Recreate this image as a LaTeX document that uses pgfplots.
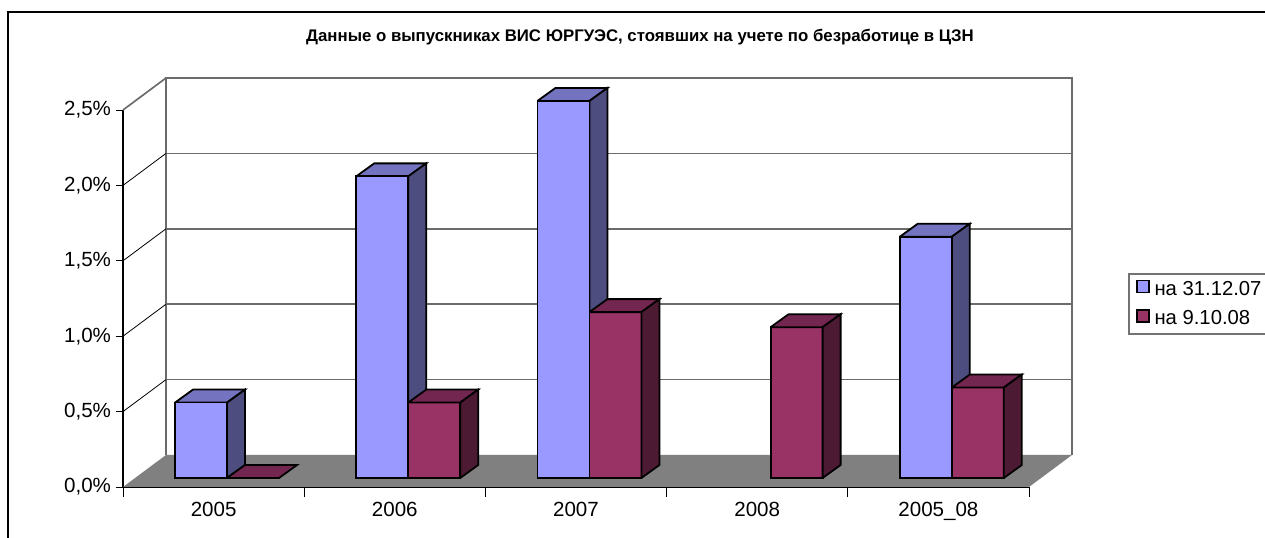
\documentclass[border=0pt]{standalone}
\usepackage{pgfplots}
\usepackage{pgfplotstable}
\usepackage{fontspec}
\setmainfont{Liberation Sans}
\pgfplotsset{compat=1.18}

\definecolor{blueF}{HTML}{9999FF}
\definecolor{blueS}{HTML}{4D4D80}
\definecolor{blueT}{HTML}{7373BF}
\definecolor{redF}{HTML}{993366}
\definecolor{redS}{HTML}{4D1A33}
\definecolor{redT}{HTML}{732650}
\definecolor{floorc}{HTML}{808080}

% bar centre, value (percent)
\pgfplotstableread{
x v
0.4305 0.5
1.4305 2.0
2.4305 2.5
4.4305 1.6
}\blueData
\pgfplotstableread{
x v
0.7175 0.0
1.7175 0.5
2.7175 1.1
3.7175 1.0
4.7175 0.6
}\redData

% side and top of one bar: centre, value, side colour, top colour
\newcommand{\barfaces}[4]{%
  \pgfmathsetmacro\xa{#1-0.1435}\pgfmathsetmacro\xb{#1+0.1435}%
  \pgfmathsetmacro\xc{\xa+0.0993}\pgfmathsetmacro\xd{\xb+0.0993}%
  \pgfmathsetmacro\yt{#2+0.0862}%
  \edef\tmp{\noexpand\addplot[forget plot,barface,fill=#4] coordinates {(\xa,#2) (\xb,#2) (\xd,\yt) (\xc,\yt) (\xa,#2)};}\tmp
  \ifdim #2pt>0pt
    \edef\tmp{\noexpand\addplot[forget plot,barface,fill=#3] coordinates {(\xb,0) (\xb,#2) (\xd,\yt) (\xd,0.0862) (\xb,0)};}\tmp
  \fi
}

\begin{document}
\begin{tikzpicture}[x=0.75pt,y=0.75pt]
\useasboundingbox (0,0) rectangle (1265,538);
\begin{axis}[
    at={(92.25pt,38.25pt)}, anchor=south west,
    scale only axis,
    width=679.5pt, height=282.75pt,
    xmin=0, xmax=5, ymin=0, ymax=2.5,
    clip=false,
    axis x line=bottom, axis y line=left,
    axis line style={-, black, line width=0.8pt},
    tick align=outside,
    xtick={0.5,1.5,2.5,3.5,4.5},
    xticklabels={2005,2006,2007,2008,2005\_08},
    minor xtick={0,1,2,3,4,5},
    major x tick style={draw=none},
    minor tick length=7.5pt,
    major tick length=5.5pt,
    tick style={black, line width=0.7pt},
    ytick={0,0.5,1,1.5,2,2.5},
    yticklabels={{0,0\%},{0,5\%},{1,0\%},{1,5\%},{2,0\%},{2,5\%}},
    tick label style={font=\fontsize{15.4}{18}\selectfont},
    xticklabel style={yshift=-2pt},
    barface/.style={draw=black, line width=1.35pt, line join=miter, yshift=6.75pt, mark=none},
    wall/.style={forget plot, mark=none, draw=black!58, line width=1.25pt},
    legend style={at={(1.1093,0.485)}, anchor=west, draw=black!55, line width=1.2pt,
      font=\fontsize{15.2}{18}\selectfont, inner xsep=5.5pt, inner ysep=3.5pt, row sep=6pt,
      legend cell align=left},
    legend image code/.code={\draw[#1, line width=1.2pt] (0pt,-9pt) rectangle (9pt,0pt); \path (10.5pt,0pt);},
  ]
  % floor
  \addplot[forget plot, fill=floorc, draw=none, mark=none] coordinates {(0,0) (0.2373,0.2122) (5.2373,0.2122) (5,0) (0,0)};
  % back wall
  \addplot[wall] coordinates {(0.2373,0.2122) (0.2373,2.7122) (5.2373,2.7122) (5.2373,0.2122)};
  \addplot[wall] coordinates {(0.2373,0.7122) (5.2373,0.7122)};
  \addplot[wall] coordinates {(0.2373,1.2122) (5.2373,1.2122)};
  \addplot[wall] coordinates {(0.2373,1.7122) (5.2373,1.7122)};
  \addplot[wall] coordinates {(0.2373,2.2122) (5.2373,2.2122)};
  % side wall
  \addplot[wall, draw=black, line width=0.6pt] coordinates {(0,0.5) (0.2373,0.7122)};
  \addplot[wall, draw=black, line width=0.6pt] coordinates {(0,1.0) (0.2373,1.2122)};
  \addplot[wall, draw=black, line width=0.6pt] coordinates {(0,1.5) (0.2373,1.7122)};
  \addplot[wall, draw=black, line width=0.6pt] coordinates {(0,2.0) (0.2373,2.2122)};
  \addplot[wall] coordinates {(0,2.5) (0.2373,2.7122)};

  \barfaces{0.4305}{0.5}{blueS}{blueT}
  \barfaces{1.4305}{2.0}{blueS}{blueT}
  \barfaces{2.4305}{2.5}{blueS}{blueT}
  \barfaces{4.4305}{1.6}{blueS}{blueT}

  \addplot[ybar, bar shift=0pt, bar width=39pt, fill=blueF, barface] table[x=x,y=v] {\blueData};
  \addlegendentry{на 31.12.07}
  \addplot[ybar, bar shift=0pt, bar width=39pt, fill=redF, barface] table[x=x,y=v] {\redData};
  \addlegendentry{на 9.10.08}

  \barfaces{0.7175}{0.0}{redS}{redT}
  \barfaces{1.7175}{0.5}{redS}{redT}
  \barfaces{2.7175}{1.1}{redS}{redT}
  \barfaces{3.7175}{1.0}{redS}{redT}
  \barfaces{4.7175}{0.6}{redS}{redT}
\end{axis}
\node[font=\fontsize{12.6}{15}\selectfont\bfseries] at (640,501) {Данные о выпускниках ВИС ЮРГУЭС, стоявших на учете по безработице в ЦЗН};
% outer frame of the chart area, cut by the page on the right and below
\draw[black, line width=1.2pt] (8,0) -- (8,526) -- (1265,526);
\end{tikzpicture}
\end{document}
